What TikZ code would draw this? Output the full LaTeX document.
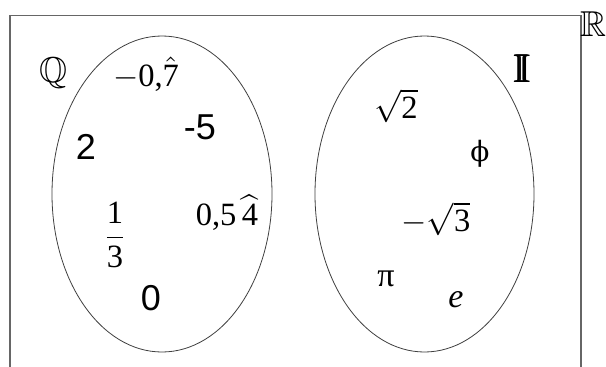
\documentclass[tikz,border=0pt]{standalone}
\usepackage{amsmath,amssymb}
\usepackage{graphicx}
\usepackage{fontspec}
\setmainfont{Liberation Serif}
\newfontfamily\sansdigits{Liberation Sans}
\newfontfamily\dvserif{DejaVu Serif}
\tikzset{
  frame/.style={draw=black!60, line width=1.3pt},
  setline/.style={draw=black!75, line width=0.8pt},
  lbl/.style={inner sep=0pt, anchor=center},
}
\newcommand{\fs}[1]{\fontsize{#1}{#1}\selectfont}
\newcommand{\tx}[1]{\text{#1}}
\newcommand{\mbig}[1]{\scalebox{3.25}{\fs{10}$#1$}}
\newcommand{\fakebold}[1]{\rlap{#1}\hspace{0.7pt}\rlap{#1}\hspace{0.7pt}\rlap{#1}\hspace{0.7pt}#1}
\begin{document}
\begin{tikzpicture}[x=1pt,y=-1pt]
\useasboundingbox (0,0) rectangle (606,367);
\fill[white] (0,0) rectangle (606,367);
% universe R
\draw[frame] (10,370) -- (10,15.5) -- (581,15.5) -- (581,370);
\node[lbl] (R) at (593,24) {\fs{36}$\mathbb{R}$};
% sets
\draw[setline] (162,194) ellipse [x radius=110, y radius=158];
\draw[setline] (424.5,194) ellipse [x radius=109.5, y radius=158];
\node[lbl] (Q) at (53,73) {\fs{36}$\mathbb{Q}$};
\node[lbl] (I) at (522,69) {\fs{40}\fakebold{$\mathbb{I}$}};
% rationals
\node[lbl] (a) at (146,74) {\mbig{-\tx{0,}\hat{\tx{7}}}};
\node[lbl] (b) at (200,127) {\fs{36}\sansdigits -5};
\node[lbl] (c) at (86,147) {\fs{36}\sansdigits 2};
\node[lbl] (d) at (115,235) {\mbig{\dfrac{\tx{1}}{\tx{3}}}};
\node[lbl] (f) at (227,213) {\mbig{\tx{0,5}\,\widehat{\tx{4}}}};
\node[lbl] (g) at (151,298) {\fs{36}\sansdigits 0};
% irrationals
\node[lbl] (h) at (396,106) {\mbig{\sqrt{\tx{2}}}};
\node[lbl] (k) at (480,154) {\fs{28}\dvserif ϕ};
\node[lbl] (m) at (436,219) {\mbig{-\sqrt{\tx{3}}}};
\node[lbl] (p) at (386,279) {\fs{34}π};
\node[lbl] (q) at (456,300) {\fs{34}\itshape e};
\end{tikzpicture}
\end{document}
